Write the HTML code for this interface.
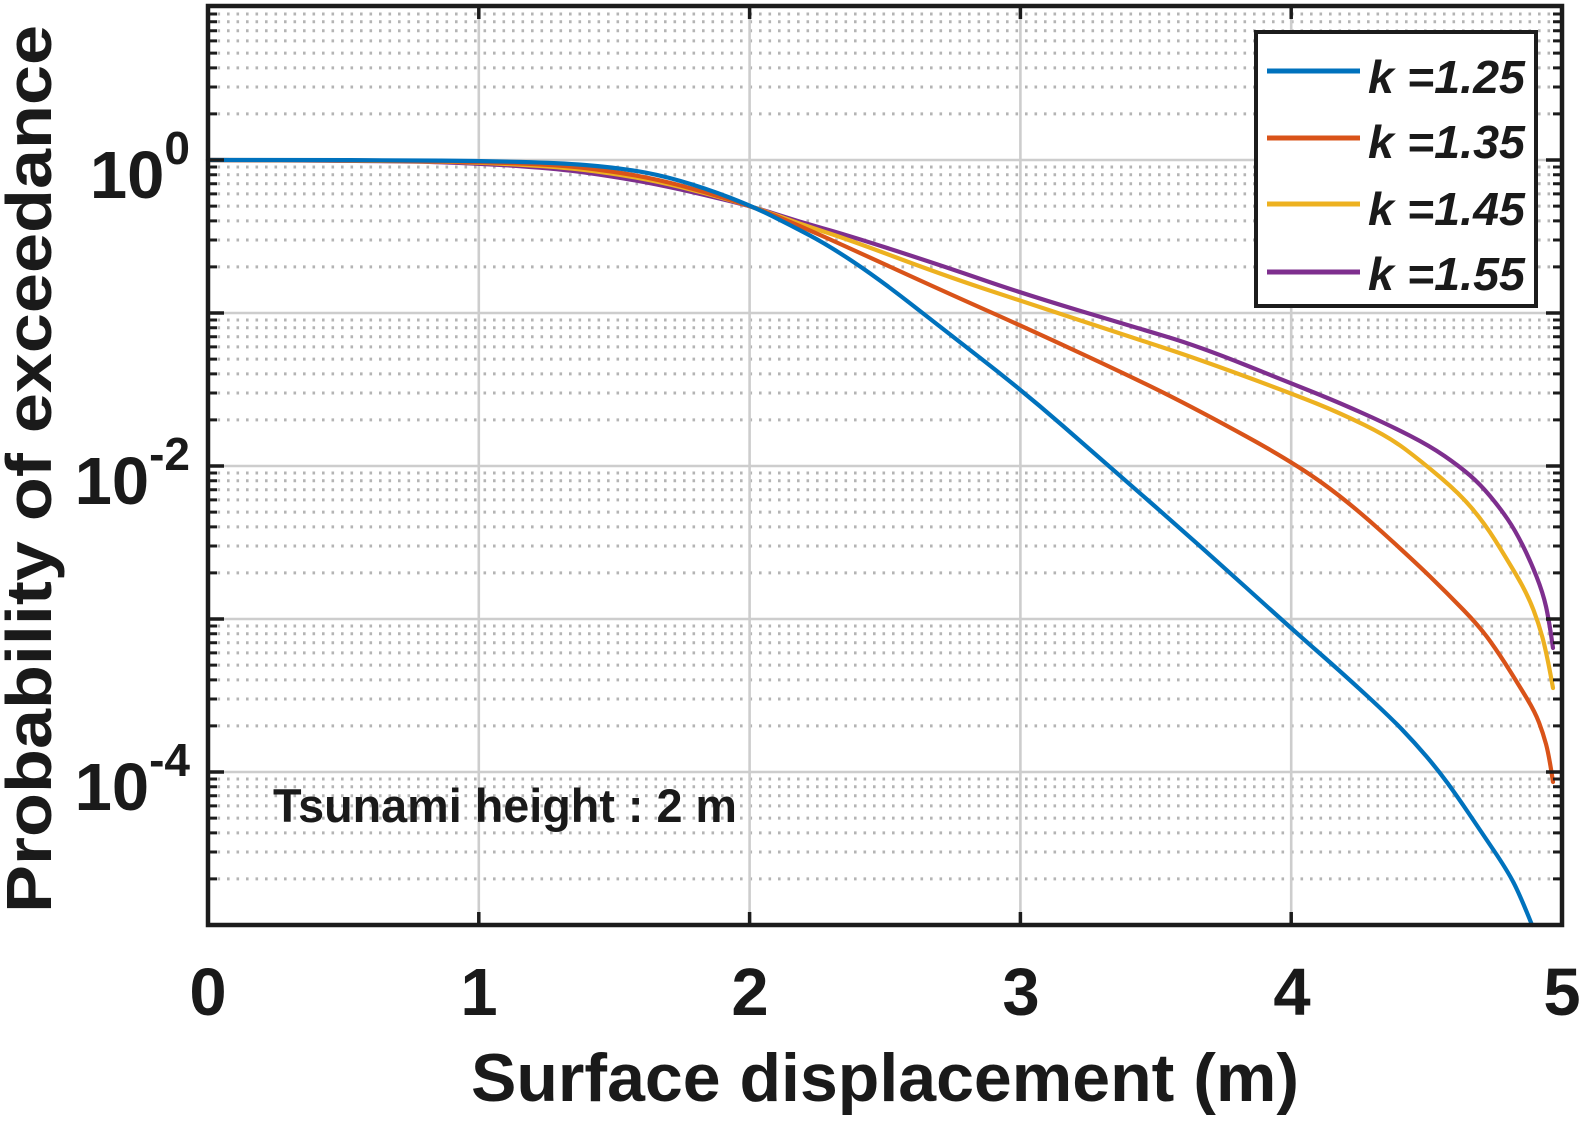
<!DOCTYPE html>
<html>
<head>
<meta charset="utf-8">
<style>
  html, body { margin: 0; padding: 0; background: #ffffff; }
  body { width: 1582px; height: 1125px; overflow: hidden; }
  svg { display: block; }
  text { font-family: "Liberation Sans", Arial, Helvetica, sans-serif; font-weight: bold; fill: #1a1a1a; }
</style>
</head>
<body>
<svg width="1582" height="1125" viewBox="0 0 1582 1125" xmlns="http://www.w3.org/2000/svg">
  <rect x="0" y="0" width="1582" height="1125" fill="#ffffff"/>

  <!-- minor horizontal gridlines (dotted) -->
  <path fill="none" stroke="#b4b4b4" stroke-width="3" stroke-dasharray="2.6 6.9"
    d="M208 113.9H1562M208 87H1562M208 67.9H1562M208 53.1H1562M208 40.9H1562M208 30.7H1562M208 21.8H1562M208 14H1562
       M208 266.9H1562M208 240H1562M208 220.9H1562M208 206.1H1562M208 193.9H1562M208 183.7H1562M208 174.8H1562M208 167H1562
       M208 419.9H1562M208 393H1562M208 373.9H1562M208 359.1H1562M208 346.9H1562M208 336.7H1562M208 327.8H1562M208 320H1562
       M208 572.9H1562M208 546H1562M208 526.9H1562M208 512.1H1562M208 499.9H1562M208 489.7H1562M208 480.8H1562M208 473H1562
       M208 725.9H1562M208 699H1562M208 679.9H1562M208 665.1H1562M208 652.9H1562M208 642.7H1562M208 633.8H1562M208 626H1562
       M208 878.9H1562M208 852H1562M208 832.9H1562M208 818.1H1562M208 805.9H1562M208 795.7H1562M208 786.8H1562M208 779H1562"/>

  <!-- major gridlines -->
  <path fill="none" stroke="#cdcdcd" stroke-width="2.6"
    d="M478.8 6V925M749.6 6V925M1020.4 6V925M1291.2 6V925
       M208 160H1562M208 313H1562M208 466H1562M208 619H1562M208 772H1562"/>

  <!-- curves -->
  <g fill="none" stroke-width="4.2" stroke-linejoin="round" stroke-linecap="round">
    <path stroke="#7E2F8E" d="M208,160 L304,160.5 Q400,161 441,162.25 Q482,163.5 521,166.25 Q560,169 585,172.5 Q610,176 633,180 Q656,184 680.5,189.5 Q705,195 729.5,201 Q754,207 777,214.5 Q800,222 823.5,228.5 Q847,235 895,250.5 Q943,266 983.5,280 Q1024,294 1079,310.5 Q1134,327 1166,336.5 Q1198,346 1245.5,365 Q1293,384 1316.5,393.5 Q1340,403 1364.5,414 Q1389,425 1409.5,435.5 Q1430,446 1444.5,456 Q1459,466 1469.5,475 Q1480,484 1490,496 Q1500,508 1507.5,519 Q1515,530 1522.5,545 Q1530,560 1536.5,576.5 Q1543,593 1546,606.5 Q1549,620 1553,648"/>
    <path stroke="#EDB120" d="M208,160 L304,160.4 Q400,160.8 441,161.65 Q482,162.5 521,164.75 Q560,167 585,170 Q610,173 633,177 Q656,181 680.5,187 Q705,193 729.5,200 Q754,207 777,215.5 Q800,224 823.5,231.5 Q847,239 895,257 Q943,275 983.5,288.5 Q1024,302 1079,320 Q1134,338 1166,348.5 Q1198,359 1245.5,376.5 Q1293,394 1316.5,403.5 Q1340,413 1364.5,425 Q1389,437 1405,449 Q1421,461 1440.5,477.5 Q1460,494 1472.5,509 Q1485,524 1495,540 Q1505,556 1516,574.5 Q1527,593 1533.5,610 Q1540,627 1544,643.5 Q1548,660 1553,688"/>
    <path stroke="#D95319" d="M208,160 L304,160.25 Q400,160.5 441,161.25 Q482,162 521,163.5 Q560,165 585,168 Q610,171 633,175 Q656,179 680.5,185.5 Q705,192 729.5,199.5 Q754,207 777,216.5 Q800,226 823.5,236.5 Q847,247 895,269 Q943,291 983.5,309 Q1024,327 1079,352.5 Q1134,378 1166,394 Q1198,410 1245.5,436 Q1293,462 1321.5,482.5 Q1350,503 1381.5,531.5 Q1413,560 1430,576.5 Q1447,593 1463.5,610 Q1480,627 1490,641 Q1500,655 1510,671 Q1520,687 1527.5,699.5 Q1535,712 1539,722.5 Q1543,733 1546,744 Q1549,755 1553,782"/>
    <path stroke="#0072BD" d="M208,160 L254,160 Q300,160 350,160.15 Q400,160.3 441,160.65 Q482,161 521,162 Q560,163 585,165 Q610,167 633,170.5 Q656,174 680.5,181 Q705,188 729.5,197.5 Q754,207 772,216 Q790,225 809,235 Q828,245 853.5,262 Q879,279 911,304 Q943,329 983.5,360.5 Q1024,392 1063,426 Q1102,460 1150,502 Q1198,544 1245.5,587 Q1293,630 1316.5,650.5 Q1340,671 1364.5,693.5 Q1389,716 1402,729.5 Q1415,743 1426.5,756.5 Q1438,770 1447.5,783 Q1457,796 1468.5,813 Q1480,830 1493.5,850 Q1507,870 1513.5,882.5 Q1520,895 1532,925"/>
  </g>

  <!-- axes box -->
  <rect x="208" y="6" width="1354" height="919" fill="none" stroke="#1c1c1c" stroke-width="4.5"/>

  <!-- ticks -->
  <path fill="none" stroke="#1c1c1c" stroke-width="3.5"
    d="M208 160h16M208 313h16M208 466h16M208 619h16M208 772h16
       M1562 160h-16M1562 313h-16M1562 466h-16M1562 619h-16M1562 772h-16
       M478.8 925v-13M749.6 925v-13M1020.4 925v-13M1291.2 925v-13
       M478.8 6v13M749.6 6v13M1020.4 6v13M1291.2 6v13"/>
  <path fill="none" stroke="#1c1c1c" stroke-width="3"
    d="M208 113.9h9M208 87h9M208 67.9h9M208 53.1h9M208 40.9h9M208 30.7h9M208 21.8h9M208 14h9
       M208 266.9h9M208 240h9M208 220.9h9M208 206.1h9M208 193.9h9M208 183.7h9M208 174.8h9M208 167h9
       M208 419.9h9M208 393h9M208 373.9h9M208 359.1h9M208 346.9h9M208 336.7h9M208 327.8h9M208 320h9
       M208 572.9h9M208 546h9M208 526.9h9M208 512.1h9M208 499.9h9M208 489.7h9M208 480.8h9M208 473h9
       M208 725.9h9M208 699h9M208 679.9h9M208 665.1h9M208 652.9h9M208 642.7h9M208 633.8h9M208 626h9
       M208 878.9h9M208 852h9M208 832.9h9M208 818.1h9M208 805.9h9M208 795.7h9M208 786.8h9M208 779h9
       M1562 113.9h-9M1562 87h-9M1562 67.9h-9M1562 53.1h-9M1562 40.9h-9M1562 30.7h-9M1562 21.8h-9M1562 14h-9
       M1562 266.9h-9M1562 240h-9M1562 220.9h-9M1562 206.1h-9M1562 193.9h-9M1562 183.7h-9M1562 174.8h-9M1562 167h-9
       M1562 419.9h-9M1562 393h-9M1562 373.9h-9M1562 359.1h-9M1562 346.9h-9M1562 336.7h-9M1562 327.8h-9M1562 320h-9
       M1562 572.9h-9M1562 546h-9M1562 526.9h-9M1562 512.1h-9M1562 499.9h-9M1562 489.7h-9M1562 480.8h-9M1562 473h-9
       M1562 725.9h-9M1562 699h-9M1562 679.9h-9M1562 665.1h-9M1562 652.9h-9M1562 642.7h-9M1562 633.8h-9M1562 626h-9
       M1562 878.9h-9M1562 852h-9M1562 832.9h-9M1562 818.1h-9M1562 805.9h-9M1562 795.7h-9M1562 786.8h-9M1562 779h-9"/>

  <!-- y tick labels -->
  <text x="190" y="198" font-size="67" text-anchor="end">10<tspan font-size="46" dy="-34">0</tspan></text>
  <text x="190" y="504" font-size="67" text-anchor="end">10<tspan font-size="46" dy="-34">-2</tspan></text>
  <text x="190" y="810" font-size="67" text-anchor="end">10<tspan font-size="46" dy="-34">-4</tspan></text>

  <!-- x tick labels -->
  <text x="208" y="1015" font-size="67" text-anchor="middle">0</text>
  <text x="479" y="1015" font-size="67" text-anchor="middle">1</text>
  <text x="750" y="1015" font-size="67" text-anchor="middle">2</text>
  <text x="1021" y="1015" font-size="67" text-anchor="middle">3</text>
  <text x="1292" y="1015" font-size="67" text-anchor="middle">4</text>
  <text x="1562" y="1015" font-size="67" text-anchor="middle">5</text>

  <!-- axis labels -->
  <text x="471" y="1101" font-size="68" textLength="828" lengthAdjust="spacingAndGlyphs">Surface displacement (m)</text>
  <text transform="translate(51,469) rotate(-90)" x="0" y="0" font-size="64" text-anchor="middle" textLength="888" lengthAdjust="spacingAndGlyphs">Probability of exceedance</text>

  <!-- annotation -->
  <text x="273" y="822" font-size="47" textLength="464" lengthAdjust="spacingAndGlyphs">Tsunami height : 2 m</text>

  <!-- legend -->
  <rect x="1256" y="32" width="280" height="274" fill="#ffffff" stroke="#1c1c1c" stroke-width="4"/>
  <g stroke-width="5" stroke-linecap="butt">
    <line x1="1267" y1="71" x2="1360" y2="71" stroke="#0072BD"/>
    <line x1="1267" y1="138" x2="1360" y2="138" stroke="#D95319"/>
    <line x1="1267" y1="204" x2="1360" y2="204" stroke="#EDB120"/>
    <line x1="1267" y1="272" x2="1360" y2="272" stroke="#7E2F8E"/>
  </g>
  <g font-size="46" font-style="italic">
    <text x="1368" y="93" textLength="157" lengthAdjust="spacingAndGlyphs">k =1.25</text>
    <text x="1368" y="158" textLength="157" lengthAdjust="spacingAndGlyphs">k =1.35</text>
    <text x="1368" y="225" textLength="157" lengthAdjust="spacingAndGlyphs">k =1.45</text>
    <text x="1368" y="290" textLength="157" lengthAdjust="spacingAndGlyphs">k =1.55</text>
  </g>
</svg>
</body>
</html>
